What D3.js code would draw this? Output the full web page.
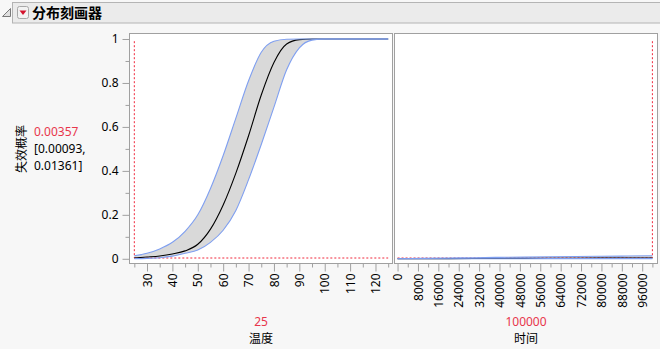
<!DOCTYPE html>
<html>
<head>
<meta charset="utf-8">
<script src="https://cdn.jsdelivr.net/npm/d3@7"></script>
<style>
  body { margin: 0; background: #f7f7f7; }
  svg text { font-family: "Segoe UI", "Noto Sans", "Noto Sans CJK SC", sans-serif; }
  .cjk { font-family: "Noto Sans CJK SC", sans-serif; }
</style>
</head>
<body>
<div id="canvas"></div>
<script>
"use strict";

/* Data */
let temps = [25, 30, 35, 40, 45, 50, 55, 60, 65, 70, 75, 80, 85, 90, 95, 100, 105, 110, 115, 120, 125];
let tempMid = [0.0036, 0.008, 0.013, 0.022, 0.036, 0.066, 0.135, 0.245, 0.39, 0.56, 0.745, 0.893, 0.977, 0.997, 1, 1, 1, 1, 1, 1, 1];
let tempUpper = [0.0136, 0.025, 0.045, 0.075, 0.125, 0.2, 0.32, 0.47, 0.64, 0.81, 0.94, 0.99, 0.999, 1, 1, 1, 1, 1, 1, 1, 1];
let tempLower = [0.0009, 0.002, 0.005, 0.012, 0.025, 0.04, 0.075, 0.13, 0.22, 0.36, 0.52, 0.69, 0.86, 0.96, 0.995, 1, 1, 1, 1, 1, 1];

let times = [0, 10000, 20000, 30000, 40000, 50000, 60000, 70000, 80000, 90000, 100000];
let timeMid = [0, 0.0004, 0.0008, 0.0012, 0.0016, 0.0019, 0.0023, 0.0026, 0.0029, 0.0033, 0.00357];
let timeUpper = [0, 0.002, 0.0035, 0.005, 0.0065, 0.0078, 0.009, 0.0102, 0.0114, 0.0125, 0.0136];
let timeLower = [0, 0.0001, 0.0002, 0.0003, 0.0004, 0.0005, 0.0006, 0.0007, 0.0008, 0.00085, 0.00093];

let yTicks = [0, 0.2, 0.4, 0.6, 0.8, 1];
let yMinor = [0.1, 0.3, 0.5, 0.7, 0.9];
let tempTicks = [30, 40, 50, 60, 70, 80, 90, 100, 110, 120];
let tempMinor = [25, 35, 45, 55, 65, 75, 85, 95, 105, 115, 125];
let timeTicks = [0, 8000, 16000, 24000, 32000, 40000, 48000, 56000, 64000, 72000, 80000, 88000, 96000];
let timeMinor = [4000, 12000, 20000, 28000, 36000, 44000, 52000, 60000, 68000, 76000, 84000, 92000, 100000];

let currentTemp = 25;
let currentTime = 100000;
let currentProb = 0.00357;
let probLow = 0.00093;
let probHigh = 0.01361;

/* Drawing configuration */
let svgWidth = 660;
let svgHeight = 349;
let plotTop = 33.5;
let plotBottom = 263.5;
let redLine = "#f0283c";
let redText = "#e8364c";
let frameColor = "#a0a0a0";

let svg = d3.select("#canvas")
  .append("svg")
  .attr("width", svgWidth)
  .attr("height", svgHeight);

/* Header bar */
svg.append("rect")
  .attr("x", 12.5).attr("y", 2.5)
  .attr("width", 660).attr("height", 20.5)
  .attr("fill", "#ebebeb")
  .attr("stroke", "#b4b4b4");

svg.append("path")
  .attr("d", "M10.5,8.5 L10.5,16.5 L2.5,16.5 Z")
  .attr("fill", "#e0e0e0")
  .attr("stroke", "#7a7a7a");

svg.append("rect")
  .attr("x", 17.5).attr("y", 6.5)
  .attr("width", 11).attr("height", 12).attr("rx", 2)
  .attr("fill", "#f2f2f2")
  .attr("stroke", "#a8a8a8");

svg.append("path")
  .attr("d", "M19.5,10.5 L26.5,10.5 L23,15 Z")
  .attr("fill", "#d3122c");

svg.append("text")
  .attr("x", 32).attr("y", 18)
  .attr("class", "cjk")
  .attr("font-size", "14px")
  .attr("font-weight", "bold")
  .attr("fill", "#000")
  .text("分布刻画器");

/* Scales */
let yScale = d3.scaleLinear()
  .domain([-0.0214, 1.025])
  .range([plotBottom, plotTop]);

let tempScale = d3.scaleLinear()
  .domain([23.1, 126.7])
  .range([129.5, 392.5]);

let timeScale = d3.scaleLinear()
  .domain([-1200, 102000])
  .range([394.5, 657.5]);

/* Plot backgrounds */
[tempScale, timeScale].forEach(function(sc) {
  let r = sc.range();
  svg.append("rect")
    .attr("x", r[0]).attr("y", plotTop)
    .attr("width", r[1] - r[0]).attr("height", plotBottom - plotTop)
    .attr("fill", "white");
});

/* Band, center curve and reference lines for one panel */
function drawPanel(xScale, xs, mid, lower, upper, xNow) {
  let pts = xs.map((x, i) => ({ x: x, m: mid[i], lo: lower[i], hi: upper[i] }));
  let g = svg.append("g");

  g.append("path")
    .datum(pts)
    .attr("d", d3.area()
      .x(d => xScale(d.x))
      .y0(d => yScale(d.lo))
      .y1(d => yScale(d.hi))
      .curve(d3.curveMonotoneX))
    .attr("fill", "#d9d9d9");

  g.append("line")
    .attr("x1", xScale(xs[0])).attr("x2", xScale(xs[xs.length - 1]))
    .attr("y1", yScale(currentProb)).attr("y2", yScale(currentProb))
    .attr("stroke", redLine)
    .attr("stroke-width", 1)
    .attr("stroke-dasharray", "2,2");

  g.append("line")
    .attr("x1", xScale(xNow)).attr("x2", xScale(xNow))
    .attr("y1", yScale(0.99)).attr("y2", yScale(currentProb))
    .attr("stroke", redLine)
    .attr("stroke-width", 1)
    .attr("stroke-dasharray", "2,2");

  g.append("path")
    .datum(pts)
    .attr("d", d3.line().x(d => xScale(d.x)).y(d => yScale(d.m)).curve(d3.curveMonotoneX))
    .attr("fill", "none")
    .attr("stroke", "#000")
    .attr("stroke-width", 1.1);

  ["lo", "hi"].forEach(function(key) {
    g.append("path")
      .datum(pts)
      .attr("d", d3.line().x(d => xScale(d.x)).y(d => yScale(d[key])).curve(d3.curveMonotoneX))
      .attr("fill", "none")
      .attr("stroke", "#7f9ff0")
      .attr("stroke-width", 1.1);
  });
}

drawPanel(tempScale, temps, tempMid, tempLower, tempUpper, currentTemp);
drawPanel(timeScale, times, timeMid, timeLower, timeUpper, currentTime);

/* Frames */
[tempScale, timeScale].forEach(function(sc) {
  let r = sc.range();
  svg.append("rect")
    .attr("x", r[0]).attr("y", plotTop)
    .attr("width", r[1] - r[0]).attr("height", plotBottom - plotTop)
    .attr("fill", "none")
    .attr("stroke", frameColor);
});

/* Axes */
function styleAxis(g) {
  g.select(".domain").remove();
  g.selectAll(".tick line").attr("stroke", frameColor);
  g.selectAll(".tick text")
    .attr("fill", "#000")
    .style("font-size", "12px");
}

svg.append("g")
  .attr("transform", "translate(129.5,0)")
  .call(d3.axisLeft(yScale).tickValues(yTicks).tickSize(7).tickPadding(4).tickFormat(d => String(d)))
  .call(styleAxis);

svg.append("g")
  .attr("transform", "translate(129.5,0)")
  .call(d3.axisLeft(yScale).tickValues(yMinor).tickSize(4).tickFormat(""))
  .call(styleAxis);

function bottomAxis(xScale, major, minor) {
  svg.append("g")
    .attr("transform", "translate(0," + plotBottom + ")")
    .call(d3.axisBottom(xScale).tickValues(major).tickSize(8).tickFormat(d => String(d)))
    .call(styleAxis)
    .selectAll(".tick text")
    .attr("transform", "rotate(-90)")
    .attr("text-anchor", "end")
    .attr("x", -10)
    .attr("y", 0)
    .attr("dy", "0.35em");

  svg.append("g")
    .attr("transform", "translate(0," + plotBottom + ")")
    .call(d3.axisBottom(xScale).tickValues(minor).tickSize(4).tickFormat(""))
    .call(styleAxis);
}

bottomAxis(tempScale, tempTicks, tempMinor);
bottomAxis(timeScale, timeTicks, timeMinor);

/* Y label and current value */
svg.append("text")
  .attr("class", "cjk")
  .attr("transform", "translate(26,149) rotate(-90)")
  .attr("text-anchor", "middle")
  .attr("font-size", "12px")
  .attr("fill", "#000")
  .text("失效概率");

svg.append("text")
  .attr("x", 34).attr("y", 136)
  .attr("font-size", "12px")
  .attr("fill", redText)
  .text(String(currentProb));

svg.append("text")
  .attr("x", 34).attr("y", 153)
  .attr("font-size", "12px")
  .attr("fill", "#000")
  .text("[" + probLow + ",");

svg.append("text")
  .attr("x", 34).attr("y", 170)
  .attr("font-size", "12px")
  .attr("fill", "#000")
  .text(probHigh + "]");

/* X labels and current settings */
let xLabels = [
  { sc: tempScale, value: currentTemp, name: "温度" },
  { sc: timeScale, value: currentTime, name: "时间" }
];

xLabels.forEach(function(item) {
  let r = item.sc.range();
  let cx = (r[0] + r[1]) / 2;
  svg.append("text")
    .attr("x", cx).attr("y", 326)
    .attr("text-anchor", "middle")
    .attr("font-size", "12px")
    .attr("fill", redText)
    .text(String(item.value));

  svg.append("text")
    .attr("x", cx).attr("y", 343)
    .attr("class", "cjk")
    .attr("text-anchor", "middle")
    .attr("font-size", "12px")
    .attr("fill", "#000")
    .text(item.name);
});
</script>
</body>
</html>
